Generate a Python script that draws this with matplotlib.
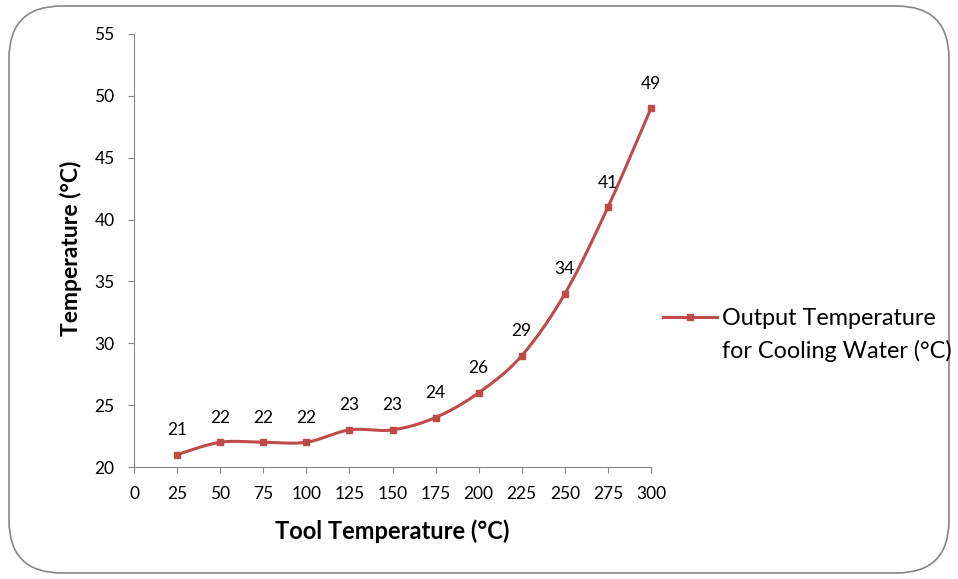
import numpy as np
import matplotlib
matplotlib.use("Agg")
import matplotlib.pyplot as plt
from matplotlib.patches import FancyBboxPatch
from matplotlib.lines import Line2D

plt.rcParams['font.family'] = ['Lato', 'DejaVu Sans']

# data
tool_temp = [25, 50, 75, 100, 125, 150, 175, 200, 225, 250, 275, 300]
water_temp = [21, 22, 22, 22, 23, 23, 24, 26, 29, 34, 41, 49]
series_name = "Output Temperature\nfor Cooling Water (°C)"
x_ticks = list(range(0, 301, 25))
y_ticks = list(range(20, 56, 5))

red = '#BE4B48'
grey = '#868686'


def smooth(x, y, n=30):
    # Excel-like smoothed line (Catmull-Rom / Bezier through the points)
    x = np.asarray(x, float)
    y = np.asarray(y, float)
    px = np.concatenate([[x[0]], x, [x[-1]]])
    py = np.concatenate([[y[0]], y, [y[-1]]])
    xs, ys = [], []
    t = np.linspace(0, 1, n)
    for i in range(1, len(px) - 2):
        p0x, p1x, p2x, p3x = px[i - 1], px[i], px[i + 1], px[i + 2]
        p0y, p1y, p2y, p3y = py[i - 1], py[i], py[i + 1], py[i + 2]
        c1x = p1x + (p2x - p0x) / 6
        c1y = p1y + (p2y - p0y) / 6
        c2x = p2x - (p3x - p1x) / 6
        c2y = p2y - (p3y - p1y) / 6
        bx = (1-t)**3*p1x + 3*(1-t)**2*t*c1x + 3*(1-t)*t**2*c2x + t**3*p2x
        by = (1-t)**3*p1y + 3*(1-t)**2*t*c1y + 3*(1-t)*t**2*c2y + t**3*p2y
        xs.extend(bx)
        ys.extend(by)
    return np.array(xs), np.array(ys)


fig = plt.figure(figsize=(9.58, 5.79), dpi=100)

# rounded chart border
frame = FancyBboxPatch((9 / 958, 6 / 579), 940 / 958, 567 / 579,
                       boxstyle="round,pad=0,rounding_size=0.055",
                       transform=fig.transFigure, facecolor='white',
                       edgecolor=grey, linewidth=1.2, mutation_aspect=958 / 579,
                       zorder=-10)
fig.patches.append(frame)

ax = fig.add_axes([134 / 958, 1 - 467 / 579, 517 / 958, 433 / 579])
ax.patch.set_alpha(0)

sx, sy = smooth(tool_temp, water_temp)
ax.plot(sx, sy, color=red, lw=2.2, solid_capstyle='round', zorder=3, clip_on=False)
ax.plot(tool_temp, water_temp, 's', color=red, ms=5, zorder=4, clip_on=False)

for xv, yv in zip(tool_temp, water_temp):
    ax.annotate(str(yv), (xv, yv), xytext=(0, 12), textcoords='offset points',
                ha='center', va='bottom', fontsize=12.5)

ax.set_xlim(0, 300)
ax.set_ylim(20, 55)
ax.set_xticks(x_ticks)
ax.set_yticks(y_ticks)
ax.tick_params(labelsize=12.5, color=grey, length=4.5, direction='out', pad=9.5)
for s in ['top', 'right']:
    ax.spines[s].set_visible(False)
for s in ['left', 'bottom']:
    ax.spines[s].set_color(grey)

# axis titles
fig.text(392 / 958, 1 - 531 / 579, "Tool Temperature (°C)", fontsize=17,
         fontweight='bold', ha='center', va='center')
fig.text(71 / 958, 1 - 248 / 579, "Temperature (°C)", fontsize=16.5,
         fontweight='bold', ha='center', va='center', rotation=90)

# legend (line with marker + two-line label)
y_leg = 1 - 317 / 579
fig.add_artist(Line2D([663 / 958, 717 / 958], [y_leg, y_leg], color=red, lw=2.2,
                      transform=fig.transFigure))
fig.add_artist(Line2D([690 / 958], [y_leg], color=red, marker='s', ms=5,
                      transform=fig.transFigure))
fig.text(722 / 958, 1 - 335 / 579, series_name, fontsize=16.8,
         ha='left', va='center', linespacing=1.6)

fig.savefig('out.png', dpi=100)
